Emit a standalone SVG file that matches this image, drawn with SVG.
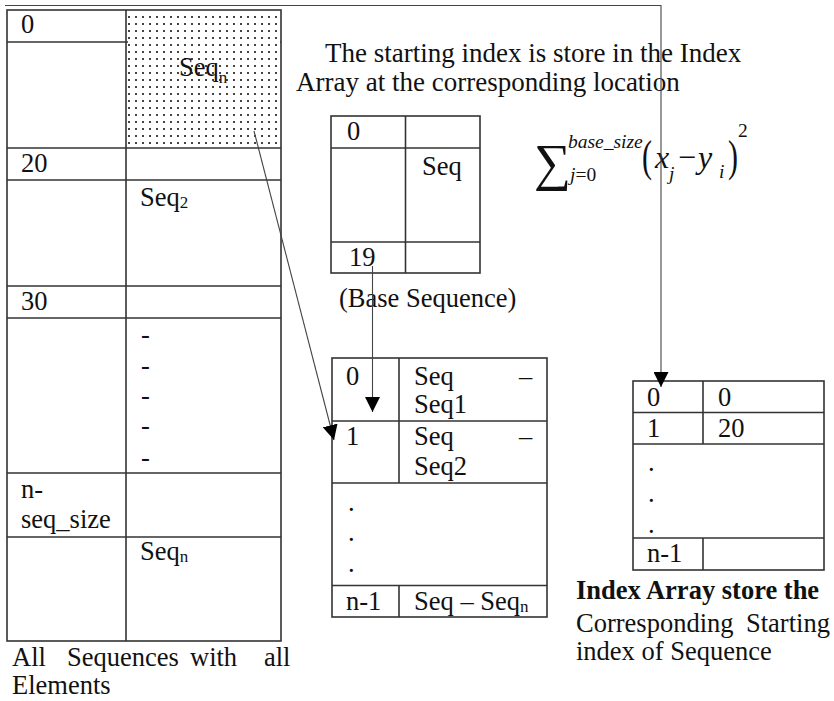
<svg xmlns="http://www.w3.org/2000/svg" width="834" height="701" viewBox="0 0 834 701">
<style>
text{font-family:"Liberation Serif","Times New Roman",serif;font-size:26.5px;fill:#111}
.tb{fill:none;stroke:#333;stroke-width:1.6}
.ln{stroke:#333;stroke-width:1.6}
.sub{font-size:17px}
.hd{font-size:27px}
.it{font-style:italic}
.fs{font-size:19.5px}
.fb{font-size:32px}
.fp{font-size:30px}
.sig{font-size:52px}
.con{fill:none;stroke:#444;stroke-width:1.1}
.b{font-weight:bold}
</style>
<defs>
<pattern id="dots" width="7" height="7" patternUnits="userSpaceOnUse">
<rect width="7" height="7" fill="#fff"/>
<rect x="2" y="2" width="2" height="2" fill="#444"/>
</pattern>
<marker id="ah" viewBox="0 0 10 10" refX="10" refY="5" markerWidth="15" markerHeight="15" markerUnits="userSpaceOnUse" orient="auto">
<path d="M0,0 L10,5 L0,10 z" fill="#000"/>
</marker>
</defs>
<rect width="834" height="701" fill="#fff"/>

<g id="all-sequences">
<rect class="tb" x="7" y="10" width="274" height="631"/>
<line class="ln" x1="126" y1="10" x2="126" y2="641"/>
<line class="ln" x1="7" y1="42" x2="281" y2="42"/>
<rect x="128" y="11" width="152" height="136" fill="url(#dots)"/>
<line class="ln" x1="7" y1="148" x2="281" y2="148"/>
<line class="ln" x1="7" y1="180" x2="281" y2="180"/>
<line class="ln" x1="7" y1="286" x2="281" y2="286"/>
<line class="ln" x1="7" y1="318" x2="281" y2="318"/>
<line class="ln" x1="7" y1="473" x2="281" y2="473"/>
<line class="ln" x1="7" y1="537" x2="281" y2="537"/>
<text x="21" y="33">0</text>
<text x="179" y="76">Seq<tspan class="sub" dy="7">n</tspan></text>
<text x="21" y="172">20</text>
<text x="140" y="206">Seq<tspan class="sub" dy="2">2</tspan></text>
<text x="21" y="310">30</text>
<text x="141" y="343">-</text>
<text x="141" y="374">-</text>
<text x="141" y="404">-</text>
<text x="141" y="434">-</text>
<text x="141" y="466">-</text>
<text x="21" y="498">n-</text>
<text x="21" y="528">seq_size</text>
<text x="140" y="560">Seq<tspan class="sub" dy="2">n</tspan></text>
<text x="12" y="666">All</text>
<text x="67" y="666">Sequences</text>
<text x="190" y="666">with</text>
<text x="264" y="666">all</text>
<text x="12" y="694">Elements</text>
</g>

<g id="note">
<text class="hd" x="325" y="62">The starting index is store in the Index</text>
<text class="hd" x="296" y="91">Array at the corresponding location</text>
</g>

<g id="base-sequence">
<rect class="tb" x="331" y="116" width="149" height="157"/>
<line class="ln" x1="405.5" y1="116" x2="405.5" y2="273"/>
<line class="ln" x1="331" y1="148" x2="480" y2="148"/>
<line class="ln" x1="331" y1="242" x2="480" y2="242"/>
<text x="347" y="140">0</text>
<text x="422" y="175">Seq</text>
<text x="349" y="266">19</text>
<text x="339" y="307">(Base Sequence)</text>
</g>

<g id="formula">
<text class="sig" x="534" y="180">∑</text>
<text class="it fs" x="568" y="148">base_size</text>
<text class="fs" x="570" y="181"><tspan class="it">j</tspan>=0</text>
<text class="fp" transform="translate(642,171) scale(1,1.45)">(</text>
<text class="it fb" x="655" y="168">x</text>
<text class="it fs" x="669" y="180">j</text>
<text class="fb" x="678" y="168">−</text>
<text class="it fb" x="698" y="168">y</text>
<text class="it fs" x="719" y="178">i</text>
<text class="fp" transform="translate(728,171) scale(1,1.45)">)</text>
<text class="fs" x="738" y="137">2</text>
</g>

<g id="difference-table">
<rect class="tb" x="332" y="358" width="215" height="259"/>
<line class="ln" x1="399" y1="358" x2="399" y2="483"/>
<line class="ln" x1="399" y1="585.5" x2="399" y2="617"/>
<line class="ln" x1="332" y1="421" x2="547" y2="421"/>
<line class="ln" x1="332" y1="483" x2="547" y2="483"/>
<line class="ln" x1="332" y1="585.5" x2="547" y2="585.5"/>
<text x="346" y="385">0</text>
<text x="414" y="385">Seq</text>
<text x="519" y="385">–</text>
<text x="414" y="413">Seq1</text>
<text x="346" y="445">1</text>
<text x="414" y="445">Seq</text>
<text x="519" y="445">–</text>
<text x="414" y="475">Seq2</text>
<text x="348" y="511">.</text>
<text x="348" y="541">.</text>
<text x="348" y="572">.</text>
<text x="346" y="610">n-1</text>
<text x="414" y="610">Seq – Seq<tspan class="sub" dy="2">n</tspan></text>
</g>

<g id="index-array">
<rect class="tb" x="633" y="381" width="191" height="189"/>
<line class="ln" x1="703" y1="381" x2="703" y2="444"/>
<line class="ln" x1="703" y1="538" x2="703" y2="570"/>
<line class="ln" x1="633" y1="412.5" x2="824" y2="412.5"/>
<line class="ln" x1="633" y1="444" x2="824" y2="444"/>
<line class="ln" x1="633" y1="538" x2="824" y2="538"/>
<text x="647" y="406">0</text>
<text x="718" y="406">0</text>
<text x="647" y="437">1</text>
<text x="718" y="437">20</text>
<text x="648" y="471">.</text>
<text x="648" y="502">.</text>
<text x="648" y="533">.</text>
<text x="647" y="562">n-1</text>
<text class="b" x="576" y="599">Index Array store the</text>
<text x="576" y="632">Corresponding</text>
<text x="746" y="632">Starting</text>
<text x="576" y="660">index of Sequence</text>
</g>

<g id="connectors">
<path class="con" d="M5,5.5 H661 V387" marker-end="url(#ah)"/>
<path class="con" d="M254,131 L334,440" marker-end="url(#ah)"/>
<path class="con" d="M372.5,266 V412" marker-end="url(#ah)"/>
</g>
</svg>
